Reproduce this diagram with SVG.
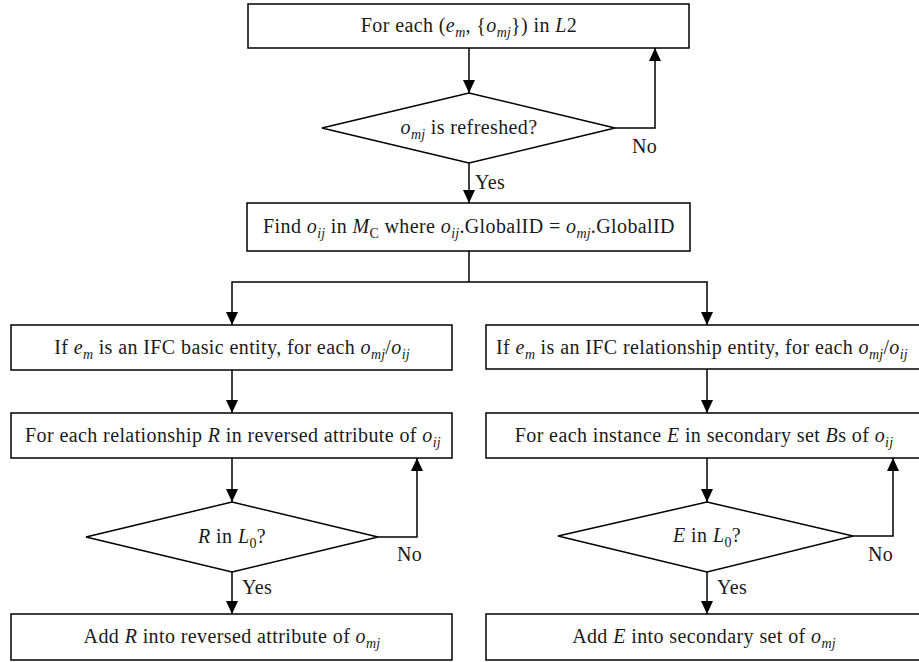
<svg xmlns="http://www.w3.org/2000/svg" width="919" height="662" viewBox="0 0 919 662">
<style>
.box{fill:#fff;stroke:#000;stroke-width:1.5}
.ln{fill:none;stroke:#000;stroke-width:1.5}
text{font-family:"Liberation Serif","Times New Roman",serif;font-size:20px;letter-spacing:0.4px;fill:#1a1a1a}
.c{text-anchor:middle}
.i{font-style:italic}
.s{font-size:14px;letter-spacing:0.2px}
</style>
<defs>
<marker id="arr" markerUnits="userSpaceOnUse" markerWidth="14" markerHeight="14" viewBox="0 0 14 14" refX="13" refY="7" orient="auto">
<path d="M0,1 L13,7 L0,13 Z" fill="#000"/>
</marker>
</defs>
<rect width="919" height="662" fill="#fff"/>
<g id="connectors">
<path class="ln" d="M469,48 V93" marker-end="url(#arr)"/>
<path class="ln" d="M615,128 H655 V48" marker-end="url(#arr)"/>
<path class="ln" d="M469,163 V203" marker-end="url(#arr)"/>
<path class="ln" d="M469,251 V282"/>
<path class="ln" d="M469,282 H232 V325" marker-end="url(#arr)"/>
<path class="ln" d="M469,282 H707 V325" marker-end="url(#arr)"/>
<path class="ln" d="M232,370 V413" marker-end="url(#arr)"/>
<path class="ln" d="M707,369 V413" marker-end="url(#arr)"/>
<path class="ln" d="M232,458 V502" marker-end="url(#arr)"/>
<path class="ln" d="M707,458 V502" marker-end="url(#arr)"/>
<path class="ln" d="M378,537 H417 V458" marker-end="url(#arr)"/>
<path class="ln" d="M853,536 H893 V458" marker-end="url(#arr)"/>
<path class="ln" d="M232,572 V614" marker-end="url(#arr)"/>
<path class="ln" d="M707,572 V614" marker-end="url(#arr)"/>
<text x="632" y="153">No</text>
<text x="475" y="189">Yes</text>
<text x="397" y="561">No</text>
<text x="242" y="594">Yes</text>
<text x="868" y="561">No</text>
<text x="717" y="594">Yes</text>
</g>
<g id="n1">
<rect class="box" x="248" y="4" width="441" height="44"/>
<text class="c" x="469" y="32">For each (<tspan class="i">e</tspan><tspan class="i s" dy="5">m</tspan><tspan dy="-5">, {</tspan><tspan class="i">o</tspan><tspan class="i s" dy="5">mj</tspan><tspan dy="-5">}) in </tspan><tspan class="i">L</tspan>2</text>
</g>
<g id="n2">
<polygon class="box" points="322,128 469,93 615,128 469,163"/>
<text class="c" x="469" y="134"><tspan class="i">o</tspan><tspan class="i s" dy="5">mj</tspan><tspan dy="-5"> is refreshed?</tspan></text>
</g>
<g id="n3">
<rect class="box" x="247" y="203" width="443" height="48"/>
<text class="c" x="469" y="233">Find <tspan class="i">o</tspan><tspan class="i s" dy="5">ij</tspan><tspan dy="-5"> in </tspan><tspan class="i">M</tspan><tspan class="s" dy="5">C</tspan><tspan dy="-5"> where </tspan><tspan class="i">o</tspan><tspan class="i s" dy="5">ij</tspan><tspan dy="-5">.GlobalID = </tspan><tspan class="i">o</tspan><tspan class="i s" dy="5">mj</tspan><tspan dy="-5">.GlobalID</tspan></text>
</g>
<g id="n4">
<rect class="box" x="11" y="325" width="441" height="45"/>
<text class="c" x="232" y="354">If <tspan class="i">e</tspan><tspan class="i s" dy="5">m</tspan><tspan dy="-5"> is an IFC basic entity, for each </tspan><tspan class="i">o</tspan><tspan class="i s" dy="5">mj</tspan><tspan dy="-5">/</tspan><tspan class="i">o</tspan><tspan class="i s" dy="5">ij</tspan></text>
</g>
<g id="n5">
<rect class="box" x="486" y="325" width="442" height="44"/>
<text class="c" x="702" y="354">If <tspan class="i">e</tspan><tspan class="i s" dy="5">m</tspan><tspan dy="-5"> is an IFC relationship entity, for each </tspan><tspan class="i">o</tspan><tspan class="i s" dy="5">mj</tspan><tspan dy="-5">/</tspan><tspan class="i">o</tspan><tspan class="i s" dy="5">ij</tspan></text>
</g>
<g id="n6">
<rect class="box" x="11" y="413" width="441" height="45"/>
<text class="c" x="233" y="442">For each relationship <tspan class="i">R</tspan> in reversed attribute of <tspan class="i">o</tspan><tspan class="i s" dy="5">ij</tspan></text>
</g>
<g id="n7">
<rect class="box" x="486" y="413" width="442" height="45"/>
<text class="c" x="704" y="442">For each instance <tspan class="i">E</tspan> in secondary set <tspan class="i">B</tspan>s of <tspan class="i">o</tspan><tspan class="i s" dy="5">ij</tspan></text>
</g>
<g id="n8">
<polygon class="box" points="86,537 232,502 378,537 232,572"/>
<text class="c" x="232" y="543"><tspan class="i">R</tspan> in <tspan class="i">L</tspan><tspan class="s" dy="5">0</tspan><tspan dy="-5">?</tspan></text>
</g>
<g id="n9">
<polygon class="box" points="558,536 707,502 853,536 707,572"/>
<text class="c" x="707" y="542"><tspan class="i">E</tspan> in <tspan class="i">L</tspan><tspan class="s" dy="5">0</tspan><tspan dy="-5">?</tspan></text>
</g>
<g id="n10">
<rect class="box" x="11" y="614" width="441" height="46"/>
<text class="c" x="232" y="643">Add <tspan class="i">R</tspan> into reversed attribute of <tspan class="i">o</tspan><tspan class="i s" dy="5">mj</tspan></text>
</g>
<g id="n11">
<rect class="box" x="486" y="614" width="442" height="46"/>
<text class="c" x="704" y="643">Add <tspan class="i">E</tspan> into secondary set of <tspan class="i">o</tspan><tspan class="i s" dy="5">mj</tspan></text>
</g>
</svg>
